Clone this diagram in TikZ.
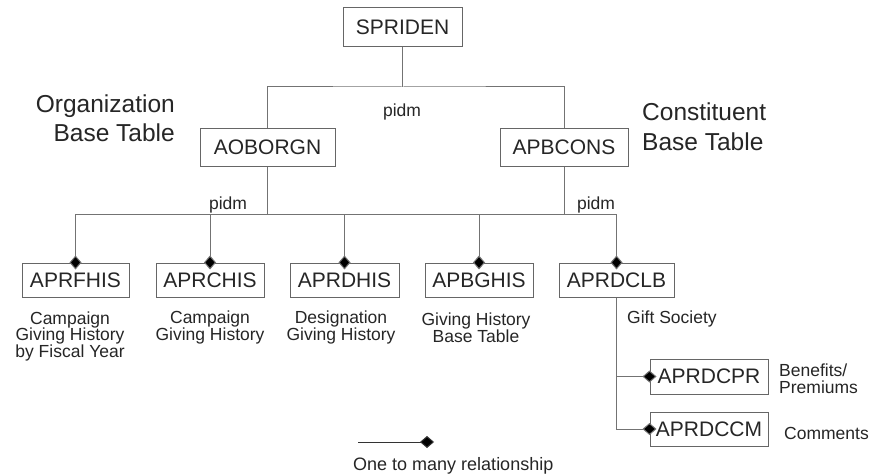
\documentclass[tikz,border=0pt]{standalone}
\usepackage{fontspec}
\setmainfont{Liberation Sans}
\usetikzlibrary{arrows.meta}
\begin{document}
\begin{tikzpicture}[x=1pt,y=-1pt,
  every node/.style={text=black!85},
  tbl/.style={draw=black!60, line width=1pt, inner sep=0pt, minimum height=36pt,
    font=\fontsize{21}{21}\selectfont},
  small/.style={font=\fontsize{17.5}{16.5}\selectfont, inner sep=0pt},
  big/.style={font=\fontsize{24.5}{29.5}\selectfont, inner sep=0pt},
  link/.style={draw=black!55, line width=1pt},
  tomany/.style={link, -{Diamond[length=14pt,width=12pt,fill=black]}, shorten >=-7pt}]
\useasboundingbox[fill=white] (0,0) rectangle (870,476);

% parent tables
\node[tbl, minimum width=119pt, minimum height=39pt] (spriden) at (402.5,27.5) {SPRIDEN};
\node[tbl, minimum width=135pt, minimum height=37pt] (aoborgn) at (267.5,147.5) {AOBORGN};
\node[tbl, minimum width=128pt, minimum height=37pt] (apbcons) at (564,147.5) {APBCONS};

% giving history tables
\node[tbl, minimum width=107pt, minimum height=34pt] (aprfhis) at (75.5,280) {APRFHIS};
\node[tbl, minimum width=108pt, minimum height=34pt] (aprchis) at (210,280) {APRCHIS};
\node[tbl, minimum width=109pt, minimum height=34pt] (aprdhis) at (344.5,280) {APRDHIS};
\node[tbl, minimum width=108pt, minimum height=34pt] (apbghis) at (479,280) {APBGHIS};
\node[tbl, minimum width=115pt, minimum height=34pt] (aprdclb) at (616.5,280) {APRDCLB};

% gift society detail tables
\node[tbl, minimum width=118pt, minimum height=35pt] (aprdcpr) at (709,376.5) {APRDCPR};
\node[tbl, minimum width=118pt, minimum height=34pt] (aprdccm) at (709,429) {APRDCCM};

% bus lines
\coordinate (tb) at (0,87);
\coordinate (bb) at (0,214);

\draw[link] (spriden.south) -- (spriden.south |- tb);
\draw[link] (aoborgn.north) |- (spriden.south |- tb) -| (apbcons.north);

\draw[link] (aoborgn.south) -- (aoborgn.south |- bb);
\draw[link] (apbcons.south) -- (apbcons.south |- bb);
\draw[link] (aprfhis.north |- bb) -- (aprdclb.north |- bb);
\draw[tomany] (aprfhis.north |- bb) -- (aprfhis.north);
\draw[tomany] (aprchis.north |- bb) -- (aprchis.north);
\draw[tomany] (aprdhis.north |- bb) -- (aprdhis.north);
\draw[tomany] (apbghis.north |- bb) -- (apbghis.north);
\draw[tomany] (aprdclb.north |- bb) -- (aprdclb.north);

\draw[tomany] (aprdclb.south) |- (aprdccm.west);
\draw[tomany] (aprdclb.south |- aprdcpr.west) -- (aprdcpr.west);

% key labels
\node[small] (pidm0) at (402,112) {pidm};
\node[small] (pidm1) at (228,205) {pidm};
\node[small] (pidm2) at (596,205) {pidm};

% side headings
\node[big, align=right, anchor=east] (orgtxt) at (175,118) {Organization\\Base Table};
\node[big, align=left, anchor=west] (contxt) at (642,126.5) {Constituent\\Base Table};

% captions
\node[small, align=center] (c1) at (70,336) {Campaign\\Giving History\\by Fiscal Year};
\node[small, align=center] (c2) at (210,327.5) {Campaign\\Giving History};
\node[small, align=center] (c3) at (341,327.5) {Designation\\Giving History};
\node[small, align=center] (c4) at (476,327.5) {Giving History\\Base Table};
\node[small, anchor=west] (c5) at (627,319) {Gift Society};
\node[small, align=left, anchor=west] (c6) at (779,378.5) {Benefits/\\Premiums};
\node[small, anchor=west] (c7) at (784,433) {Comments};

% legend
\coordinate (lga) at (358,442);
\coordinate (lgb) at (427,442);
\draw[tomany, draw=black!80] (lga) -- (lgb);
\node[font=\fontsize{18}{18}\selectfont, inner sep=0pt, anchor=west] (lgtxt) at (353,466) {One to many relationship};
\end{tikzpicture}
\end{document}
